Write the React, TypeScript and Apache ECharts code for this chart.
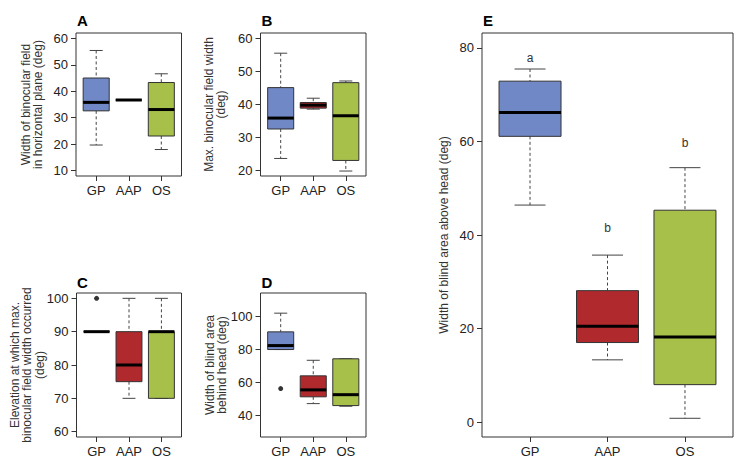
import React, { useEffect, useRef } from "react";
import * as echarts from "echarts";

const categories = ["GP", "AAP", "OS"];
// [lower whisker, Q1, median, Q3, upper whisker] per category
const panelA = [
  [19.7, 32.6, 35.8, 45.0, 55.4],
  [36.7, 36.7, 36.7, 36.7, 36.7],
  [18.0, 23.1, 33.1, 43.3, 46.6],
];
const panelB = [
  [23.7, 32.6, 35.9, 45.1, 55.5],
  [38.6, 38.9, 39.8, 40.6, 41.9],
  [19.9, 23.1, 36.6, 46.6, 47.1],
];
const panelC = [
  [90, 90, 90, 90, 90],
  [70, 75, 80, 90, 100],
  [70, 70, 90, 90, 100],
];
const panelD = [
  [79.8, 79.8, 82.2, 90.5, 101.8],
  [47.1, 51.2, 55.4, 63.9, 73.3],
  [45.5, 45.9, 52.5, 74.2, 74.2],
];
const panelE = [
  [46.4, 61.1, 66.2, 72.9, 75.5],
  [13.3, 17.0, 20.5, 28.1, 35.7],
  [0.8, 8.0, 18.2, 45.3, 54.4],
];
// outliers: [category index (1-based), value]
const outliersC = [[1, 100]];
const outliersD = [[1, 56.2]];
// significance letters for panel E
const sigLetters = ["a", "b", "b"];
const sigY = [77.9, 41.6, 59.7];

const yTicksA = [10, 20, 30, 40, 50, 60];
const yTicksB = [20, 30, 40, 50, 60];
const yTicksC = [60, 70, 80, 90, 100];
const yTicksD = [40, 60, 80, 100];
const yTicksE = [0, 20, 40, 60, 80];

const boxColors = ["#7088C6", "#B0292D", "#A6C04A"];
const FONT = "Liberation Sans, Arial, Helvetica, sans-serif";

function renderBox(params: any, api: any) {
  const x = api.value(0);
  const lo = api.coord([x, api.value(1)]);
  const q1 = api.coord([x, api.value(2)]);
  const md = api.coord([x, api.value(3)]);
  const q3 = api.coord([x, api.value(4)]);
  const hi = api.coord([x, api.value(5)]);
  const cx = md[0];
  const half = api.size([0.8, 0])[0] / 2;
  const cap = half / 2;
  const wStyle = { stroke: "#444", lineWidth: 1, lineDash: [3, 2.5] };
  const cStyle = { stroke: "#444", lineWidth: 1 };
  const children: any[] = [];
  if (hi[1] < q3[1] - 0.5) {
    children.push({ type: "line", shape: { x1: cx, y1: hi[1], x2: cx, y2: q3[1] }, style: wStyle });
  }
  if (lo[1] > q1[1] + 0.5) {
    children.push({ type: "line", shape: { x1: cx, y1: q1[1], x2: cx, y2: lo[1] }, style: wStyle });
  }
  children.push({ type: "line", shape: { x1: cx - cap, y1: hi[1], x2: cx + cap, y2: hi[1] }, style: cStyle });
  children.push({ type: "line", shape: { x1: cx - cap, y1: lo[1], x2: cx + cap, y2: lo[1] }, style: cStyle });
  children.push({
    type: "rect",
    shape: { x: cx - half, y: q3[1], width: half * 2, height: q1[1] - q3[1] },
    style: { fill: boxColors[params.dataIndex], stroke: "#333", lineWidth: 1 },
  });
  children.push({
    type: "line",
    shape: { x1: cx - half, y1: md[1], x2: cx + half, y2: md[1] },
    style: { stroke: "#000", lineWidth: 3 },
  });
  return { type: "group", children };
}

function renderLetter(params: any, api: any) {
  const p = api.coord([api.value(0), api.value(1)]);
  return {
    type: "text",
    x: p[0],
    y: p[1],
    style: {
      text: sigLetters[params.dataIndex],
      font: `12px ${FONT}`,
      fill: "#333",
      textAlign: "center",
      textVerticalAlign: "middle",
    },
  };
}

function boxData(stats: number[][]) {
  return stats.map((s, i) => [i + 1, ...s]);
}

export default function App() {
  const ref = useRef<HTMLDivElement>(null);
  useEffect(() => {
    if (!ref.current) return;
    const chart = echarts.init(ref.current, null, { renderer: "svg" });
    const grids = [
      { left: 76, top: 33, width: 105.5, height: 143 },
      { left: 260.5, top: 33, width: 105.5, height: 143 },
      { left: 76.5, top: 293, width: 105, height: 144 },
      { left: 260.5, top: 293, width: 105.5, height: 144 },
      { left: 482, top: 33, width: 251, height: 404 },
    ].map((g) => ({ ...g, show: true, borderColor: "#333", borderWidth: 1, backgroundColor: "transparent" }));
    const yRanges = [
      [8, 62],
      [18.4, 61.6],
      [58.4, 101.6],
      [26.9, 114],
      [-3.2, 83.2],
    ];
    const yTicks = [yTicksA, yTicksB, yTicksC, yTicksD, yTicksE];
    const panels = [panelA, panelB, panelC, panelD, panelE];
    const xAxis = grids.map((_, i) => ({
      type: "value",
      gridIndex: i,
      position: "bottom",
      min: 0.38,
      max: 3.62,
      splitLine: { show: false },
      axisLine: { show: false, onZero: false },
      axisTick: { show: true, length: 5, customValues: [1, 2, 3], lineStyle: { color: "#333" } },
      axisLabel: {
        customValues: [1, 2, 3],
        formatter: (v: number) => categories[Math.round(v) - 1] || "",
        fontSize: 13,
        color: "#222",
        margin: 8,
        fontFamily: FONT,
      },
    }));
    const yAxis = grids.map((_, i) => ({
      type: "value",
      gridIndex: i,
      position: "left",
      min: yRanges[i][0],
      max: yRanges[i][1],
      splitLine: { show: false },
      axisLine: { show: false, onZero: false },
      axisTick: { show: true, length: 5, customValues: yTicks[i], lineStyle: { color: "#333" } },
      axisLabel: {
        customValues: yTicks[i],
        fontSize: 13,
        color: "#222",
        margin: 8,
        fontFamily: FONT,
      },
    }));
    const series: any[] = panels.map((p, i) => ({
      type: "custom",
      xAxisIndex: i,
      yAxisIndex: i,
      renderItem: renderBox,
      encode: { x: 0, y: [1, 2, 3, 4, 5] },
      data: boxData(p),
      z: 3,
    }));
    series.push({
      type: "scatter",
      xAxisIndex: 2,
      yAxisIndex: 2,
      data: outliersC,
      symbolSize: 5,
      itemStyle: { color: "#000" },
      z: 4,
    });
    series.push({
      type: "scatter",
      xAxisIndex: 3,
      yAxisIndex: 3,
      data: outliersD,
      symbolSize: 5,
      itemStyle: { color: "#000" },
      z: 4,
    });
    series.push({
      type: "custom",
      xAxisIndex: 4,
      yAxisIndex: 4,
      renderItem: renderLetter,
      encode: { x: 0, y: 1 },
      data: sigY.map((y, i) => [i + 1, y]),
      z: 4,
    });
    const title = (t: string, x: number, y: number) => ({
      type: "text",
      x,
      y,
      style: { text: t, font: `bold 15px ${FONT}`, fill: "#000", textAlign: "left", textVerticalAlign: "middle" },
    });
    const ylab = (t: string, x: number, y: number) => ({
      type: "text",
      x,
      y,
      rotation: Math.PI / 2,
      style: {
        text: t,
        font: `12px ${FONT}`,
        fill: "#333",
        textAlign: "center",
        textVerticalAlign: "middle",
        lineHeight: 12.5,
      },
    });
    chart.setOption({
      animation: false,
      textStyle: { fontFamily: FONT },
      grid: grids,
      xAxis,
      yAxis,
      series,
      graphic: [
        title("A", 77, 20),
        title("B", 261.5, 20),
        title("C", 77, 282),
        title("D", 261.5, 282),
        title("E", 483, 20),
        ylab("Width of binocular field\nin horizontal plane (deg)", 32, 104.5),
        ylab("Max. binocular field width\n(deg)", 215, 104.5),
        ylab("Elevation at which max.\nbinocular field width occurred\n(deg)", 27, 365),
        ylab("Width of blind area\nbehind head (deg)", 216, 365),
        ylab("Width of blind area above head (deg)", 444, 235),
      ],
    });
    return () => chart.dispose();
  }, []);
  return (
    <div
      ref={ref}
      style={{ position: "absolute", left: 0, top: 0, width: 735, height: 462, background: "#fff" }}
    />
  );
}
